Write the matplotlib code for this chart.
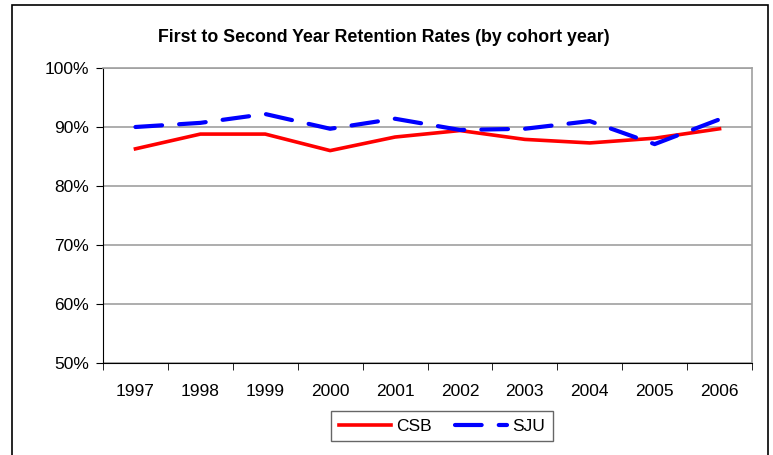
import matplotlib.pyplot as plt
import numpy as np
from matplotlib.patches import Rectangle
from matplotlib.ticker import FixedLocator, FuncFormatter

plt.rcParams['font.family'] = ['Liberation Sans', 'DejaVu Sans']

years = ['1997', '1998', '1999', '2000', '2001', '2002', '2003', '2004', '2005', '2006']
csb = [86.3, 88.8, 88.8, 86.0, 88.3, 89.4, 87.9, 87.3, 88.1, 89.7]
sju = [90.0, 90.7, 92.2, 89.7, 91.4, 89.5, 89.7, 91.0, 87.1, 91.3]

fig = plt.figure(figsize=(7.73, 4.55), dpi=100)
fig.patches.append(Rectangle((12 / 773, -0.01), 756 / 773, 1 - 5 / 455 + 0.01,
                             transform=fig.transFigure, fill=False,
                             edgecolor='black', linewidth=1.2))

ax = fig.add_axes([103 / 773, 1 - 363 / 455, 649 / 773, 295 / 455])
x = np.arange(len(years))
ax.plot(x, csb, color='#ff0000', linewidth=2.6, label='CSB')
ax.plot(x, sju, color='#0000ff', linewidth=3, dashes=(6.4, 4.1),
        dash_capstyle='round', label='SJU')

ax.set_xlim(-0.5, len(years) - 0.5)
ax.set_ylim(50, 100)
ax.set_yticks(range(50, 101, 10))
ax.yaxis.set_major_formatter(FuncFormatter(lambda v, p: f'{v:.0f}%'))
ax.set_xticks(x)
ax.set_xticklabels(years)
ax.xaxis.set_minor_locator(FixedLocator(np.arange(-0.5, len(years), 1)))
ax.tick_params(axis='x', which='major', length=0, pad=15)
ax.tick_params(axis='x', which='minor', length=5, direction='out', color='black')
ax.tick_params(axis='y', length=5, direction='out', pad=5)
ax.tick_params(labelsize=12.5)
ax.grid(axis='y', color='#a0a0a0', linewidth=1.2)
ax.set_axisbelow(True)
for s in ['top', 'right']:
    ax.spines[s].set_color('#a0a0a0')
    ax.spines[s].set_linewidth(1.2)
ax.spines['left'].set_color('black')
ax.spines['bottom'].set_color('black')

fig.text(384 / 773, 1 - 37 / 455, 'First to Second Year Retention Rates (by cohort year)',
         ha='center', va='center', fontsize=12.8, fontweight='bold')

leg = fig.legend(loc='center', bbox_to_anchor=(442 / 773, 1 - 426 / 455), ncol=2,
                 frameon=True, fancybox=False, edgecolor='#404040', fontsize=12.5,
                 handlelength=3.0, handletextpad=0.3, columnspacing=1.3,
                 borderpad=0.45)
leg.get_frame().set_linewidth(1.0)

fig.savefig('out.png', dpi=100)
